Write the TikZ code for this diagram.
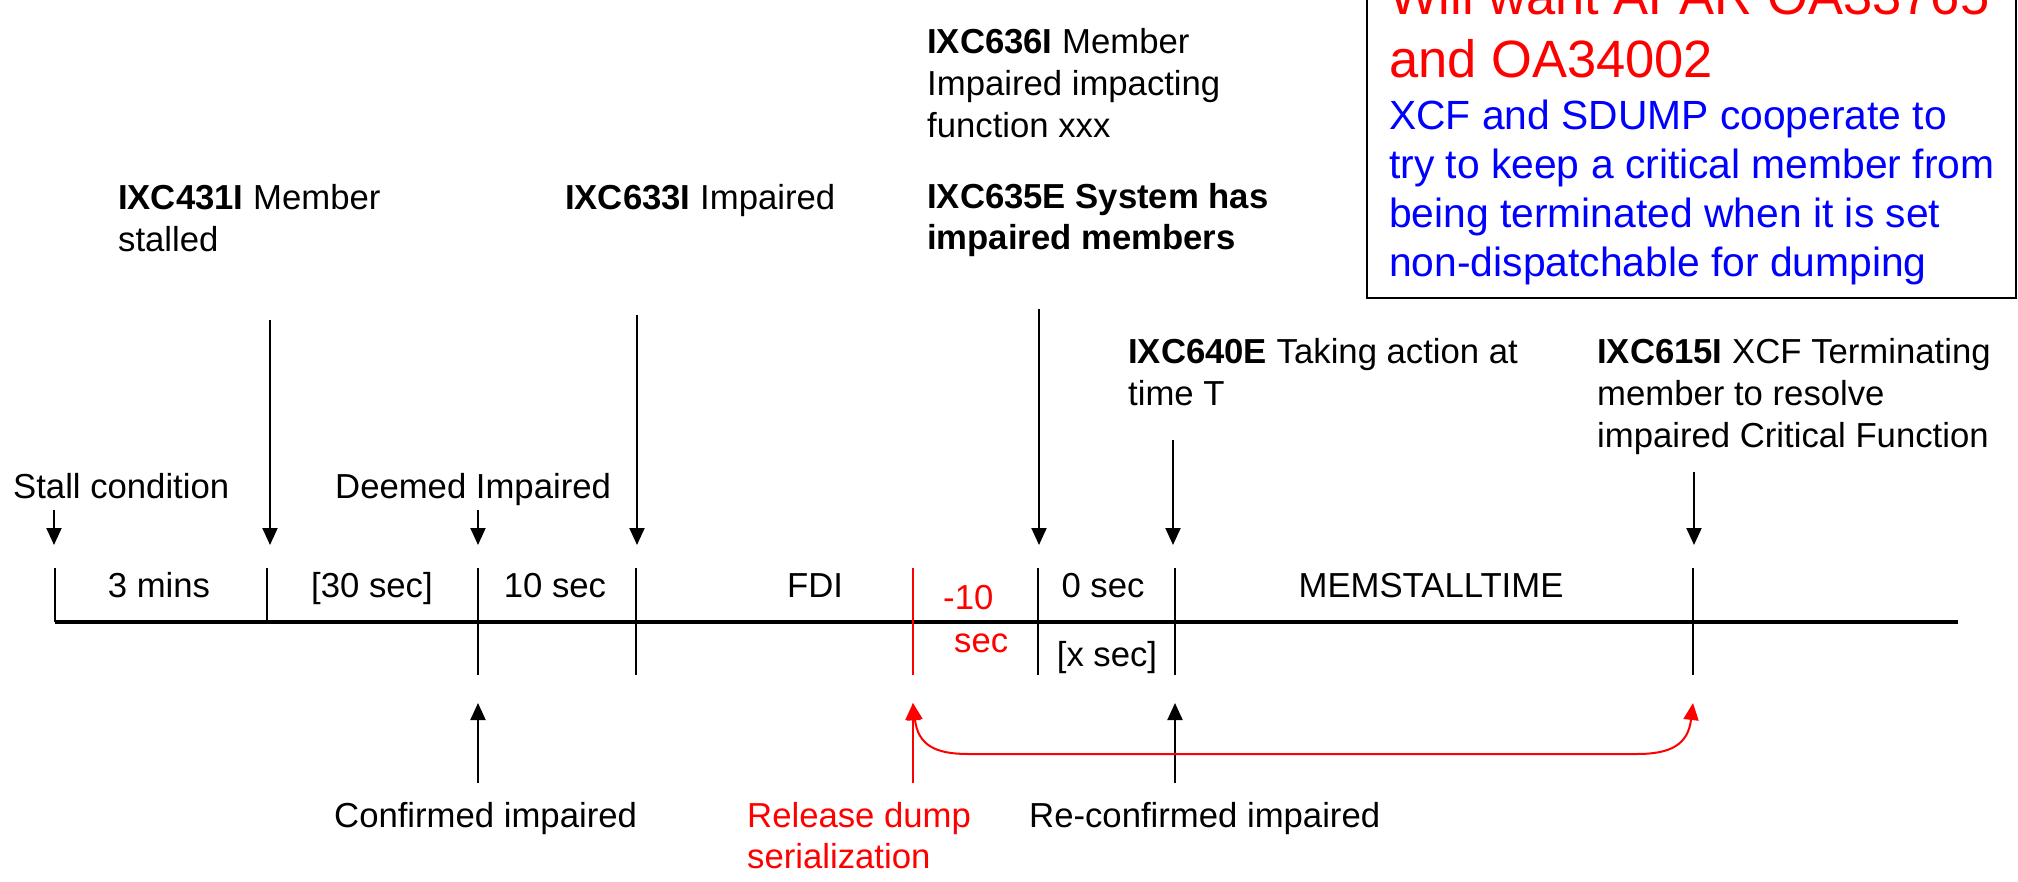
\documentclass[tikz,border=0pt]{standalone}
\usepackage{fontspec}
\setmainfont{Liberation Sans}
\usetikzlibrary{arrows.meta}
\newcommand{\txtblock}[1]{\begin{tabular}[t]{@{}l@{}}#1\end{tabular}}
\definecolor{pptred}{RGB}{255,0,0}
\definecolor{pptblue}{RGB}{0,0,255}
\tikzset{
  lbl/.style={inner sep=0pt, anchor=base west, font=\fontsize{34.7}{42}\selectfont},
  seg/.style={inner sep=0pt, anchor=base, font=\fontsize{34.7}{42}\selectfont},
  tickln/.style={line width=2pt},
  axis/.style={line width=3.5pt},
  arr/.style={line width=2pt, -{Triangle[width=15pt,length=17pt]}},
  dblarr/.style={line width=2pt, {Triangle[width=15pt,length=17pt]}-{Triangle[width=15pt,length=17pt]}},
}
\begin{document}
\begin{tikzpicture}[x=1pt,y=-1pt]
\useasboundingbox (0,0) rectangle (2018,882);
\fill[white] (0,0) rectangle (2018,882);
\clip (0,0) rectangle (2018,882);

% time axis
\coordinate (ax0) at (55,622);
\coordinate (ax1) at (1958,622);
\draw[axis] (ax0) -- (ax1);

% tick marks: top end, bottom end
\foreach \n/\x/\yb in {a/55/622, b/267/622, c/478/675, d/636/675, f/1038/675, g/1175/675, h/1693/675}{
  \coordinate (t\n) at (\x,568);
  \coordinate (b\n) at (\x,\yb);
  \draw[tickln] (t\n) -- (b\n);
}
\coordinate (te) at (913,568);
\coordinate (be) at (913,675);
\draw[tickln, pptred] (te) -- (be);

% interval labels
\node[seg] (s1) at (159,597) {3 mins};
\node[seg] (s2) at (372,597) {[30 sec]};
\node[seg] (s3) at (555,597) {10 sec};
\node[seg] (s4) at (815,597) {FDI};
\node[lbl, text=pptred] (s5a) at (943,609) {-10};
\node[lbl, text=pptred] (s5b) at (954,652) {sec};
\node[seg] (s6) at (1103,597) {0 sec};
\node[seg] (s6b) at (1107,666) {[x sec]};
\node[seg] (s7) at (1431,597) {MEMSTALLTIME};

% event texts above the axis
\node[lbl] (stall) at (13,498) {Stall condition};
\node[lbl] (deemed) at (335,498) {Deemed Impaired};
\node[lbl] (m431) at (118,210) {\txtblock{\textbf{IXC431I} Member\\stalled}};
\node[lbl] (m633) at (565,210) {\textbf{IXC633I} Impaired};
\node[lbl] (m636) at (927,54) {\txtblock{\textbf{IXC636I} Member\\Impaired impacting\\function xxx}};
\node[lbl, font=\fontsize{34.7}{41}\selectfont\bfseries] (m635) at (927,209) {\txtblock{IXC635E System has\\impaired members}};
\node[lbl] (m640) at (1128,363) {\txtblock{\textbf{IXC640E} Taking action at\\time T}};
\node[lbl] (m615) at (1597,363) {\txtblock{\textbf{IXC615I} XCF Terminating\\member to resolve\\impaired Critical Function}};

% event texts below the axis
\node[lbl] (conf) at (334,827) {Confirmed impaired};
\node[lbl, text=pptred, font=\fontsize{34.7}{41}\selectfont] (rel) at (747,827) {\txtblock{Release dump\\serialization}};
\node[lbl] (reconf) at (1029,827) {Re-confirmed impaired};

% downward arrows onto the axis
\coordinate (pa) at (54,545);   \coordinate (qa) at (54,510);
\coordinate (pb) at (270,545);  \coordinate (qb) at (270,320);
\coordinate (pc) at (478,545);  \coordinate (qc) at (478,510);
\coordinate (pd) at (637,545);  \coordinate (qd) at (637,315);
\coordinate (pf) at (1039,545); \coordinate (qf) at (1039,309);
\coordinate (pg) at (1173,545); \coordinate (qg) at (1173,440);
\coordinate (ph) at (1694,545); \coordinate (qh) at (1694,472);
\foreach \n in {a,b,c,d,f,g,h}{\draw[arr] (q\n) -- (p\n);}

% upward arrows from below
\coordinate (uc) at (478,783);  \coordinate (vc) at (478,703);
\coordinate (ug) at (1175,783); \coordinate (vg) at (1175,703);
\coordinate (ue) at (913,783);  \coordinate (ve) at (913,703);
\coordinate (vh) at (1693,703);
\draw[arr] (uc) -- (vc);
\draw[arr] (ug) -- (vg);
\draw[arr, pptred] (ue) -- (ve);
\draw[dblarr, pptred] (ve) .. controls (918,745) and (935,754) .. (968,754)
  -- (1637,754) .. controls (1670,754) and (1688,745) .. (vh);

% note box
\draw[line width=2.5pt] (1367,-20) rectangle (2016,298);
\node[inner sep=0pt, anchor=base west, text=pptred, font=\fontsize{52.5}{63}\selectfont] (apar) at (1389,15)
  {\txtblock{Will want APAR OA33765\\and OA34002}};
\node[inner sep=0pt, anchor=base west, text=pptblue, font=\fontsize{40.8}{49}\selectfont] (note) at (1389,130)
  {\txtblock{XCF and SDUMP cooperate to\\try to keep a critical member from\\being terminated when it is set\\non-dispatchable for dumping}};
\end{tikzpicture}
\end{document}
